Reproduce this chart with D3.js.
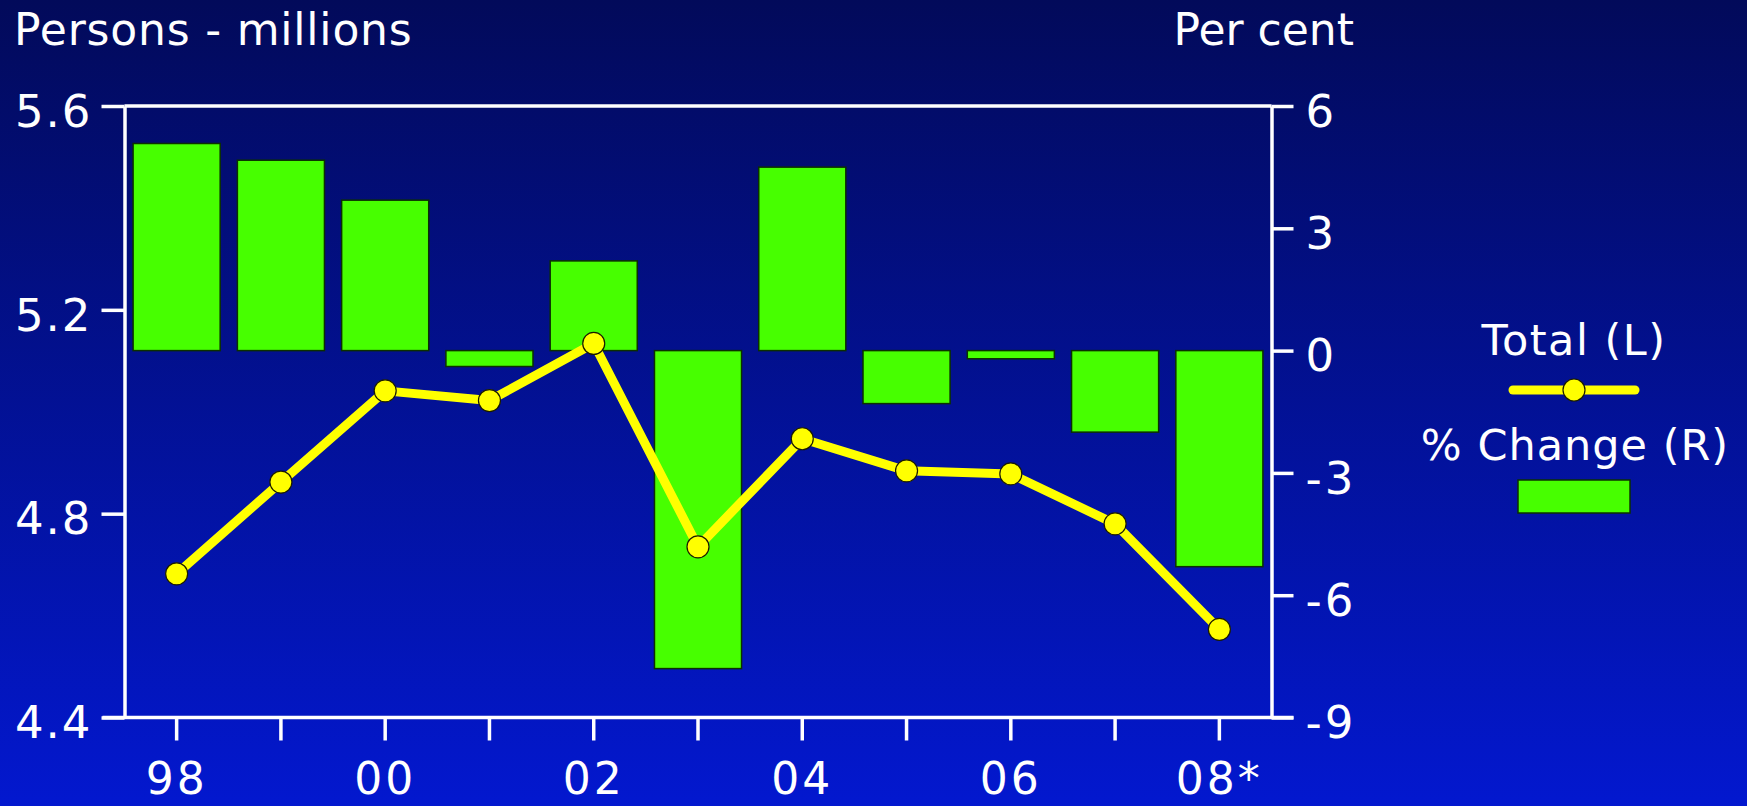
<!DOCTYPE html>
<html>
<head>
<meta charset="utf-8">
<script src="https://cdn.jsdelivr.net/npm/d3@7"></script>
<style>
  html, body { margin: 0; padding: 0; }
  body { width: 1747px; height: 806px; overflow: hidden; }
  text { font-family: "DejaVu Sans", Verdana, sans-serif; fill: #fff; }
</style>
</head>
<body>
<div id="chart"></div>
<script>
const years = ["98", "99", "00", "01", "02", "03", "04", "05", "06", "07", "08"];
const xLabels = { "98": "98", "00": "00", "02": "02", "04": "04", "06": "06", "08": "08*" };
const totalPersons = [4.682, 4.862, 5.041, 5.022, 5.134, 4.735, 4.947, 4.884, 4.878, 4.780, 4.573];
const pctChange = [5.08, 4.67, 3.69, -0.39, 2.2, -7.8, 4.5, -1.3, -0.2, -2.0, -5.3];
const leftTicks = [4.4, 4.8, 5.2, 5.6];
const rightTicks = [6, 3, 0, -3, -6, -9];

const width = 1747;
const height = 806;
const plotLeft = 124.5, plotRight = 1271.5, plotTop = 106, plotBottom = 717.5;

const svg = d3.select("#chart")
    .append("svg")
    .attr("width", width)
    .attr("height", height);

// background gradient
const grad = svg.append("defs").append("linearGradient")
    .attr("id", "bg")
    .attr("x1", 0).attr("y1", 0).attr("x2", 0).attr("y2", 1);
grad.append("stop").attr("offset", "0%").attr("stop-color", "#020a5a");
grad.append("stop").attr("offset", "100%").attr("stop-color", "#0318cf");
svg.append("rect")
    .attr("width", width)
    .attr("height", height)
    .attr("fill", "url(#bg)");

const xScale = d3.scaleBand()
    .domain(years)
    .range([plotLeft, plotRight])
    .paddingInner(0.165)
    .paddingOuter(0.0825);

const yLeft = d3.scaleLinear().domain([4.4, 5.6]).range([plotBottom, plotTop]);
const yRight = d3.scaleLinear().domain([-9, 6]).range([plotBottom, plotTop]);

// bars
svg.selectAll(".bar")
    .data(pctChange)
    .enter()
    .append("rect")
    .attr("class", "bar")
    .attr("x", (d, i) => xScale(years[i]))
    .attr("y", d => yRight(Math.max(0, d)))
    .attr("width", xScale.bandwidth())
    .attr("height", d => Math.abs(yRight(d) - yRight(0)))
    .attr("fill", "#47ff00")
    .attr("stroke", "#0c3000")
    .attr("stroke-width", 1.5);

// axes
const axisStyle = g => {
    g.selectAll("path, line").attr("stroke", "#fff").attr("stroke-width", 3.5);
    g.selectAll("text").attr("fill", "#fff").attr("font-size", 45)
        .attr("font-family", "'DejaVu Sans', Verdana, sans-serif");
};

svg.append("g")
    .attr("transform", `translate(${plotLeft},0)`)
    .call(d3.axisLeft(yLeft).tickValues(leftTicks).tickFormat(d3.format(".1f"))
        .tickSize(23).tickSizeOuter(0).tickPadding(9))
    .call(axisStyle)
    .call(g => g.selectAll("text").attr("dy", "0.45em").attr("letter-spacing", 2));

svg.append("g")
    .attr("transform", `translate(${plotRight},0)`)
    .call(d3.axisRight(yRight).tickValues(rightTicks).tickFormat(d => String(d))
        .tickSize(22).tickSizeOuter(0).tickPadding(12))
    .call(axisStyle)
    .call(g => g.selectAll("text").attr("dy", "0.45em").attr("letter-spacing", 3));

svg.append("g")
    .attr("transform", `translate(0,${plotBottom})`)
    .call(d3.axisBottom(xScale).tickFormat(d => xLabels[d] || "")
        .tickSize(23).tickSizeOuter(0).tickPadding(22))
    .call(axisStyle)
    .call(g => g.select(".domain").attr("d", `M${plotLeft - 22},0H${plotRight + 22}`))
    .call(g => g.selectAll("text").attr("font-size", 44).attr("letter-spacing", 3));

// top border
svg.append("line")
    .attr("x1", plotLeft).attr("x2", plotRight)
    .attr("y1", plotTop).attr("y2", plotTop)
    .attr("stroke", "#fff")
    .attr("stroke-width", 3.5);

// line series
const line = d3.line()
    .x((d, i) => xScale(years[i]) + xScale.bandwidth() / 2)
    .y(d => yLeft(d));

svg.append("path")
    .datum(totalPersons)
    .attr("d", line)
    .attr("fill", "none")
    .attr("stroke", "#ffff00")
    .attr("stroke-width", 9)
    .attr("stroke-linejoin", "round");

svg.selectAll(".dot")
    .data(totalPersons)
    .enter()
    .append("circle")
    .attr("class", "dot")
    .attr("cx", (d, i) => xScale(years[i]) + xScale.bandwidth() / 2)
    .attr("cy", d => yLeft(d))
    .attr("r", 11)
    .attr("fill", "#ffff00")
    .attr("stroke", "#1a1a00")
    .attr("stroke-width", 1.2);

// titles
svg.append("text")
    .attr("x", 14).attr("y", 45)
    .attr("font-size", 44)
    .attr("letter-spacing", 0.8)
    .text("Persons - millions");

svg.append("text")
    .attr("x", 1354).attr("y", 45)
    .attr("text-anchor", "end")
    .attr("font-size", 44)
    .text("Per cent");

// legend
const legend = svg.append("g");
legend.append("text")
    .attr("x", 1574).attr("y", 355)
    .attr("text-anchor", "middle")
    .attr("font-size", 43)
    .attr("letter-spacing", 1.5)
    .text("Total (L)");
legend.append("line")
    .attr("x1", 1513).attr("x2", 1635)
    .attr("y1", 390).attr("y2", 390)
    .attr("stroke", "#ffff00")
    .attr("stroke-width", 9)
    .attr("stroke-linecap", "round");
legend.append("circle")
    .attr("cx", 1574).attr("cy", 390)
    .attr("r", 11)
    .attr("fill", "#ffff00")
    .attr("stroke", "#1a1a00")
    .attr("stroke-width", 1.2);
legend.append("text")
    .attr("x", 1575).attr("y", 460)
    .attr("text-anchor", "middle")
    .attr("font-size", 43)
    .attr("letter-spacing", 1)
    .text("% Change (R)");
legend.append("rect")
    .attr("x", 1518).attr("y", 480)
    .attr("width", 112).attr("height", 33)
    .attr("fill", "#47ff00")
    .attr("stroke", "#0c3000")
    .attr("stroke-width", 1.5);
</script>
</body>
</html>
